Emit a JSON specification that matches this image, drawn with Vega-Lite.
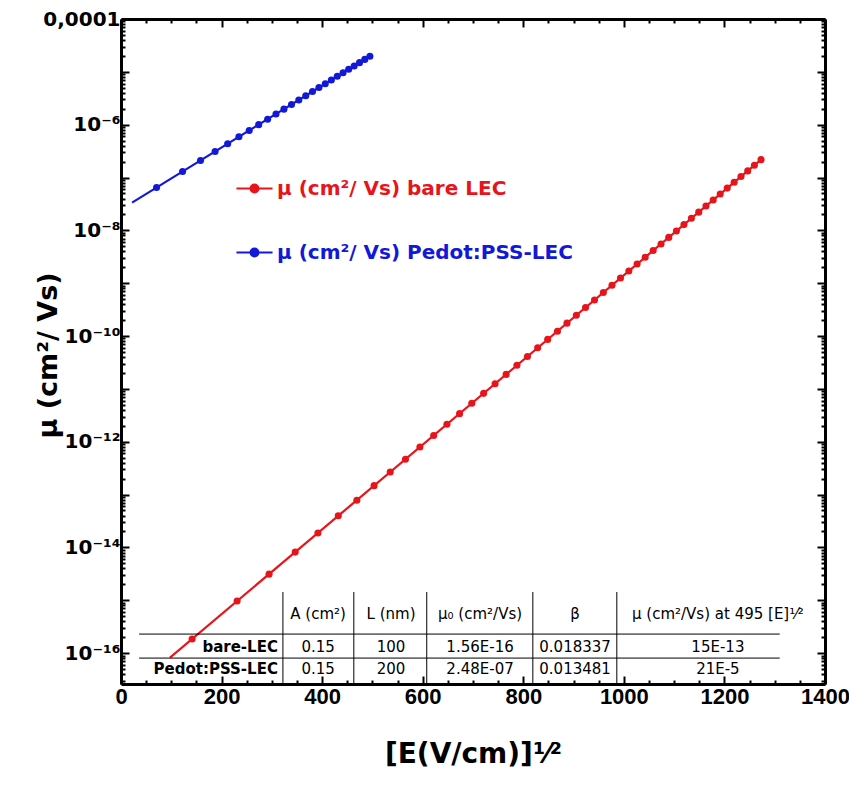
{
  "$schema": "https://vega.github.io/schema/vega-lite/v6.json",
  "width": 704,
  "height": 665,
  "autosize": {"type": "none"},
  "padding": {"left": 121, "top": 19, "right": 24, "bottom": 101},
  "background": "white",
  "config": {
    "view": {"stroke": null},
    "axis": {"grid": false, "domainColor": "black", "tickColor": "black", "labelColor": "black", "titleColor": "black", "labelOverlap": false},
    "legend": {"orient": "none", "legendX": 114, "legendY": 150, "title": null, "padding": 0,
      "symbolType": "M-1,0H1M0.22,0A0.22,0.22 0 1 1 -0.22,0A0.22,0.22 0 1 1 0.22,0Z", "symbolSize": 1300, "symbolStrokeWidth": 2,
      "labelFont": "DejaVu Sans", "labelFontSize": 20, "labelFontWeight": "bold", "labelOffset": 3, "rowPadding": 34, "labelLimit": 400}
  },
  "datasets": {
    "fits": [
      {"s": "bare", "x": 97.4, "mu": 8.22e-17},
      {"s": "bare", "x": 1272.8, "mu": 2.178e-7},
      {"s": "pedot", "x": 22, "mu": 3.356e-8},
      {"s": "pedot", "x": 494.98, "mu": 1.973e-5}
    ],
    "dots": [
      {"s": "bare", "x": 141.4, "mu": 1.852e-16},
      {"s": "bare", "x": 230.9, "mu": 9.663e-16},
      {"s": "bare", "x": 294.4, "mu": 3.121e-15},
      {"s": "bare", "x": 346.4, "mu": 8.150e-15},
      {"s": "bare", "x": 391.6, "mu": 1.877e-14},
      {"s": "bare", "x": 432.1, "mu": 3.964e-14},
      {"s": "bare", "x": 469.0, "mu": 7.834e-14},
      {"s": "bare", "x": 503.3, "mu": 1.476e-13},
      {"s": "bare", "x": 535.4, "mu": 2.669e-13},
      {"s": "bare", "x": 565.7, "mu": 4.669e-13},
      {"s": "bare", "x": 594.4, "mu": 7.930e-13},
      {"s": "bare", "x": 621.8, "mu": 1.315e-12},
      {"s": "bare", "x": 648.1, "mu": 2.137e-12},
      {"s": "bare", "x": 673.3, "mu": 3.402e-12},
      {"s": "bare", "x": 697.6, "mu": 5.330e-12},
      {"s": "bare", "x": 721.1, "mu": 8.226e-12},
      {"s": "bare", "x": 743.9, "mu": 1.252e-11},
      {"s": "bare", "x": 765.9, "mu": 1.880e-11},
      {"s": "bare", "x": 787.4, "mu": 2.797e-11},
      {"s": "bare", "x": 808.3, "mu": 4.113e-11},
      {"s": "bare", "x": 828.6, "mu": 5.983e-11},
      {"s": "bare", "x": 848.5, "mu": 8.638e-11},
      {"s": "bare", "x": 867.9, "mu": 1.236e-10},
      {"s": "bare", "x": 886.9, "mu": 1.755e-10},
      {"s": "bare", "x": 905.5, "mu": 2.474e-10},
      {"s": "bare", "x": 923.8, "mu": 3.468e-10},
      {"s": "bare", "x": 941.6, "mu": 4.817e-10},
      {"s": "bare", "x": 959.2, "mu": 6.668e-10},
      {"s": "bare", "x": 976.4, "mu": 9.159e-10},
      {"s": "bare", "x": 993.3, "mu": 1.251e-9},
      {"s": "bare", "x": 1009.9, "mu": 1.700e-9},
      {"s": "bare", "x": 1026.3, "mu": 2.300e-9},
      {"s": "bare", "x": 1042.4, "mu": 3.097e-9},
      {"s": "bare", "x": 1058.3, "mu": 4.153e-9},
      {"s": "bare", "x": 1073.9, "mu": 5.540e-9},
      {"s": "bare", "x": 1089.3, "mu": 7.360e-9},
      {"s": "bare", "x": 1104.5, "mu": 9.745e-9},
      {"s": "bare", "x": 1119.5, "mu": 1.285e-8},
      {"s": "bare", "x": 1134.3, "mu": 1.689e-8},
      {"s": "bare", "x": 1148.9, "mu": 2.212e-8},
      {"s": "bare", "x": 1163.3, "mu": 2.885e-8},
      {"s": "bare", "x": 1177.6, "mu": 3.757e-8},
      {"s": "bare", "x": 1191.6, "mu": 4.865e-8},
      {"s": "bare", "x": 1205.6, "mu": 6.300e-8},
      {"s": "bare", "x": 1219.3, "mu": 8.113e-8},
      {"s": "bare", "x": 1232.9, "mu": 1.043e-7},
      {"s": "bare", "x": 1246.3, "mu": 1.335e-7},
      {"s": "bare", "x": 1259.6, "mu": 1.707e-7},
      {"s": "bare", "x": 1272.8, "mu": 2.178e-7},
      {"s": "pedot", "x": 70.71, "mu": 6.472e-8},
      {"s": "pedot", "x": 122.47, "mu": 1.300e-7},
      {"s": "pedot", "x": 158.11, "mu": 2.102e-7},
      {"s": "pedot", "x": 187.08, "mu": 3.108e-7},
      {"s": "pedot", "x": 212.13, "mu": 4.356e-7},
      {"s": "pedot", "x": 234.52, "mu": 5.891e-7},
      {"s": "pedot", "x": 254.95, "mu": 7.758e-7},
      {"s": "pedot", "x": 273.86, "mu": 1.001e-6},
      {"s": "pedot", "x": 291.55, "mu": 1.271e-6},
      {"s": "pedot", "x": 308.22, "mu": 1.591e-6},
      {"s": "pedot", "x": 324.04, "mu": 1.969e-6},
      {"s": "pedot", "x": 339.12, "mu": 2.413e-6},
      {"s": "pedot", "x": 353.55, "mu": 2.931e-6},
      {"s": "pedot", "x": 367.43, "mu": 3.535e-6},
      {"s": "pedot", "x": 380.79, "mu": 4.233e-6},
      {"s": "pedot", "x": 393.70, "mu": 5.036e-6},
      {"s": "pedot", "x": 406.21, "mu": 5.963e-6},
      {"s": "pedot", "x": 418.33, "mu": 7.020e-6},
      {"s": "pedot", "x": 430.12, "mu": 8.230e-6},
      {"s": "pedot", "x": 441.59, "mu": 9.606e-6},
      {"s": "pedot", "x": 452.78, "mu": 1.117e-5},
      {"s": "pedot", "x": 463.69, "mu": 1.294e-5},
      {"s": "pedot", "x": 474.35, "mu": 1.494e-5},
      {"s": "pedot", "x": 484.77, "mu": 1.719e-5},
      {"s": "pedot", "x": 494.98, "mu": 1.973e-5}
    ],
    "hlines": [
      {"x": 36, "x2": 1310, "y": 2.29e-16},
      {"x": 36, "x2": 1310, "y": 8.04e-17}
    ],
    "vlines": [
      {"x": 322, "y": 1.43e-15, "y2": 2.6e-17},
      {"x": 463, "y": 1.43e-15, "y2": 2.6e-17},
      {"x": 608, "y": 1.43e-15, "y2": 2.6e-17},
      {"x": 819, "y": 1.43e-15, "y2": 2.6e-17},
      {"x": 986, "y": 1.43e-15, "y2": 2.6e-17}
    ],
    "cells": [
      {"x": 392, "y": 5.46e-16, "t": "A (cm²)"},
      {"x": 537, "y": 5.46e-16, "t": "L (nm)"},
      {"x": 714, "y": 5.46e-16, "t": "μ₀ (cm²/Vs)"},
      {"x": 903, "y": 5.46e-16, "t": "β"},
      {"x": 1187, "y": 5.46e-16, "t": "μ (cm²/Vs) at 495 [E]¹⁄²"},
      {"x": 392, "y": 1.30e-16, "t": "0.15"},
      {"x": 537, "y": 1.30e-16, "t": "100"},
      {"x": 714, "y": 1.30e-16, "t": "1.56E-16"},
      {"x": 903, "y": 1.30e-16, "t": "0.018337"},
      {"x": 1187, "y": 1.30e-16, "t": "15E-13"},
      {"x": 392, "y": 4.97e-17, "t": "0.15"},
      {"x": 537, "y": 4.97e-17, "t": "200"},
      {"x": 714, "y": 4.97e-17, "t": "2.48E-07"},
      {"x": 903, "y": 4.97e-17, "t": "0.013481"},
      {"x": 1187, "y": 4.97e-17, "t": "21E-5"}
    ],
    "rowlabels": [
      {"x": 312, "y": 1.30e-16, "t": "bare-LEC"},
      {"x": 312, "y": 4.97e-17, "t": "Pedot:PSS-LEC"}
    ]
  },
  "layer": [
    {
      "data": {"name": "fits"},
      "mark": {"type": "line", "strokeWidth": 2.2, "clip": true},
      "encoding": {
        "x": {"field": "x", "type": "quantitative", "scale": {"domain": [0, 1400], "nice": false, "zero": false},
          "axis": {"orient": "bottom", "values": [0, 200, 400, 600, 800, 1000, 1200, 1400], "format": "d", "tickSize": -8, "tickWidth": 2, "domainWidth": 3,
            "labelFont": "Liberation Sans", "labelFontSize": 22, "labelFontWeight": "bold", "labelPadding": 10, "labelFlush": false,
            "title": "[E(V/cm)]¹⁄²", "titleFont": "DejaVu Sans", "titleFontSize": 28, "titleFontWeight": "bold", "titleY": 78, "titleBaseline": "alphabetic"}},
        "y": {"field": "mu", "type": "quantitative", "scale": {"type": "log", "domain": [2.6e-17, 1e-4], "nice": false},
          "axis": {"orient": "left", "values": [1e-4, 1e-5, 1e-6, 1e-7, 1e-8, 1e-9, 1e-10, 1e-11, 1e-12, 1e-13, 1e-14, 1e-15, 1e-16], "tickSize": -8, "tickWidth": 2, "domainWidth": 3,
            "labelFont": "DejaVu Sans", "labelFontSize": 20, "labelFontWeight": "bold", "labelPadding": 9, "labelFlush": false,
            "labelExpr": "round(log(datum.value)/LN10)==-4?'0,0001':round(log(datum.value)/LN10)==-6?'10⁻⁶':round(log(datum.value)/LN10)==-8?'10⁻⁸':round(log(datum.value)/LN10)==-10?'10⁻¹⁰':round(log(datum.value)/LN10)==-12?'10⁻¹²':round(log(datum.value)/LN10)==-14?'10⁻¹⁴':round(log(datum.value)/LN10)==-16?'10⁻¹⁶':''",
            "title": "μ (cm²/ Vs)", "titleFont": "DejaVu Sans", "titleFontSize": 27, "titleFontWeight": "bold", "titleAngle": -90, "titleX": -73, "titleY": 336, "titleBaseline": "middle", "titleAlign": "center"}},
        "color": {"field": "s", "type": "nominal", "scale": {"domain": ["bare", "pedot"], "range": ["#e8141b", "#1218d8"]},
          "legend": {
            "labelExpr": "datum.value == 'bare' ? 'μ (cm²/ Vs) bare LEC' : 'μ (cm²/ Vs) Pedot:PSS-LEC'",
            "encode": {
              "symbols": {"update": {"stroke": {"signal": "datum.value == 'bare' ? '#e8141b' : '#1218d8'"}, "fill": {"signal": "datum.value == 'bare' ? '#e8141b' : '#1218d8'"}, "strokeWidth": {"value": 2}, "opacity": {"value": 1}}},
              "labels": {"update": {"fill": {"signal": "datum.value == 'bare' ? '#e8141b' : '#1218d8'"}}}
            }}}
      }
    },
    {
      "data": {"name": "dots"},
      "mark": {"type": "point", "filled": true, "size": 50, "opacity": 1, "shape": "circle"},
      "encoding": {
        "x": {"field": "x", "type": "quantitative",
          "axis": {"orient": "bottom", "values": [50, 100, 150, 250, 300, 350, 450, 500, 550, 650, 700, 750, 850, 900, 950, 1050, 1100, 1150, 1250, 1300, 1350], "tickSize": -4, "tickWidth": 2, "domain": false, "labels": false, "title": null}},
        "y": {"field": "mu", "type": "quantitative",
          "axis": {"orient": "left", "values": [3e-17, 4e-17, 5e-17, 6e-17, 7e-17, 8e-17, 9e-17, 2e-16, 3e-16, 4e-16, 5e-16, 6e-16, 7e-16, 8e-16, 9e-16, 2e-15, 3e-15, 4e-15, 5e-15, 6e-15, 7e-15, 8e-15, 9e-15, 2e-14, 3e-14, 4e-14, 5e-14, 6e-14, 7e-14, 8e-14, 9e-14, 2e-13, 3e-13, 4e-13, 5e-13, 6e-13, 7e-13, 8e-13, 9e-13, 2e-12, 3e-12, 4e-12, 5e-12, 6e-12, 7e-12, 8e-12, 9e-12, 2e-11, 3e-11, 4e-11, 5e-11, 6e-11, 7e-11, 8e-11, 9e-11, 2e-10, 3e-10, 4e-10, 5e-10, 6e-10, 7e-10, 8e-10, 9e-10, 2e-9, 3e-9, 4e-9, 5e-9, 6e-9, 7e-9, 8e-9, 9e-9, 2e-8, 3e-8, 4e-8, 5e-8, 6e-8, 7e-8, 8e-8, 9e-8, 2e-7, 3e-7, 4e-7, 5e-7, 6e-7, 7e-7, 8e-7, 9e-7, 2e-6, 3e-6, 4e-6, 5e-6, 6e-6, 7e-6, 8e-6, 9e-6, 2e-5, 3e-5, 4e-5, 5e-5, 6e-5, 7e-5, 8e-5, 9e-5], "tickSize": -4, "tickWidth": 2, "domain": false, "labels": false, "title": null}},
        "color": {"field": "s", "type": "nominal",
          "legend": {
            "labelExpr": "datum.value == 'bare' ? 'μ (cm²/ Vs) bare LEC' : 'μ (cm²/ Vs) Pedot:PSS-LEC'",
            "encode": {
              "symbols": {"update": {"stroke": {"signal": "datum.value == 'bare' ? '#e8141b' : '#1218d8'"}, "fill": {"signal": "datum.value == 'bare' ? '#e8141b' : '#1218d8'"}, "strokeWidth": {"value": 2}, "opacity": {"value": 1}}},
              "labels": {"update": {"fill": {"signal": "datum.value == 'bare' ? '#e8141b' : '#1218d8'"}}}
            }}}
      }
    },
    {
      "data": {"name": "hlines"},
      "mark": {"type": "rule", "color": "black", "strokeWidth": 1},
      "encoding": {
        "x": {"field": "x", "type": "quantitative",
          "axis": {"orient": "top", "values": [0, 200, 400, 600, 800, 1000, 1200, 1400], "tickSize": -8, "tickWidth": 2, "domainWidth": 3, "labels": false, "title": null}},
        "x2": {"field": "x2"},
        "y": {"field": "y", "type": "quantitative",
          "axis": {"orient": "right", "values": [1e-4, 1e-5, 1e-6, 1e-7, 1e-8, 1e-9, 1e-10, 1e-11, 1e-12, 1e-13, 1e-14, 1e-15, 1e-16], "tickSize": -8, "tickWidth": 2, "domainWidth": 3, "labels": false, "title": null}}
      }
    },
    {
      "data": {"name": "vlines"},
      "mark": {"type": "rule", "color": "black", "strokeWidth": 1},
      "encoding": {
        "x": {"field": "x", "type": "quantitative",
          "axis": {"orient": "top", "values": [50, 100, 150, 250, 300, 350, 450, 500, 550, 650, 700, 750, 850, 900, 950, 1050, 1100, 1150, 1250, 1300, 1350], "tickSize": -4, "tickWidth": 2, "domain": false, "labels": false, "title": null}},
        "y": {"field": "y", "type": "quantitative",
          "axis": {"orient": "right", "values": [3e-17, 4e-17, 5e-17, 6e-17, 7e-17, 8e-17, 9e-17, 2e-16, 3e-16, 4e-16, 5e-16, 6e-16, 7e-16, 8e-16, 9e-16, 2e-15, 3e-15, 4e-15, 5e-15, 6e-15, 7e-15, 8e-15, 9e-15, 2e-14, 3e-14, 4e-14, 5e-14, 6e-14, 7e-14, 8e-14, 9e-14, 2e-13, 3e-13, 4e-13, 5e-13, 6e-13, 7e-13, 8e-13, 9e-13, 2e-12, 3e-12, 4e-12, 5e-12, 6e-12, 7e-12, 8e-12, 9e-12, 2e-11, 3e-11, 4e-11, 5e-11, 6e-11, 7e-11, 8e-11, 9e-11, 2e-10, 3e-10, 4e-10, 5e-10, 6e-10, 7e-10, 8e-10, 9e-10, 2e-9, 3e-9, 4e-9, 5e-9, 6e-9, 7e-9, 8e-9, 9e-9, 2e-8, 3e-8, 4e-8, 5e-8, 6e-8, 7e-8, 8e-8, 9e-8, 2e-7, 3e-7, 4e-7, 5e-7, 6e-7, 7e-7, 8e-7, 9e-7, 2e-6, 3e-6, 4e-6, 5e-6, 6e-6, 7e-6, 8e-6, 9e-6, 2e-5, 3e-5, 4e-5, 5e-5, 6e-5, 7e-5, 8e-5, 9e-5], "tickSize": -4, "tickWidth": 2, "domain": false, "labels": false, "title": null}},
        "y2": {"field": "y2"}
      }
    },
    {
      "data": {"name": "cells"},
      "mark": {"type": "text", "font": "DejaVu Sans", "fontSize": 15, "color": "black", "align": "center", "baseline": "middle"},
      "encoding": {
        "x": {"field": "x", "type": "quantitative", "axis": null},
        "y": {"field": "y", "type": "quantitative", "axis": null},
        "text": {"field": "t"}
      }
    },
    {
      "data": {"name": "rowlabels"},
      "mark": {"type": "text", "font": "DejaVu Sans", "fontSize": 15, "fontWeight": "bold", "color": "black", "align": "right", "baseline": "middle"},
      "encoding": {
        "x": {"field": "x", "type": "quantitative", "axis": null},
        "y": {"field": "y", "type": "quantitative", "axis": null},
        "text": {"field": "t"}
      }
    }
  ],
  "resolve": {"axis": {"x": "independent", "y": "independent"}}
}
